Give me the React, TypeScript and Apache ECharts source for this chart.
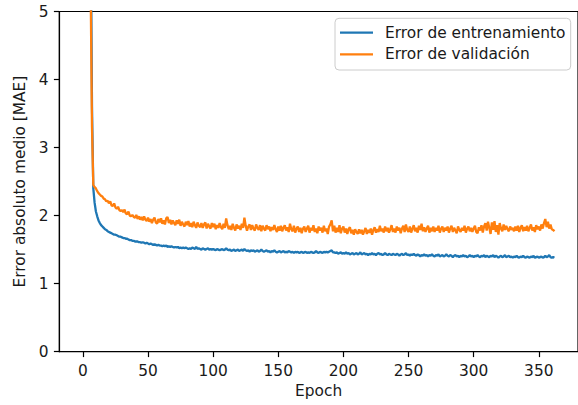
import React, { useEffect, useRef } from "react";
import * as echarts from "echarts";

const seriesNames = ["Error de entrenamiento", "Error de validación"];
const xTickValues = [0, 50, 100, 150, 200, 250, 300, 350];
const yTickValues = [0, 1, 2, 3, 4, 5];

const trainMAE = [
  22.6, 21.6, 20.1, 17.9, 14.9, 11.0, 6.4, 3.6, 2.4, 2.19,
  2.06, 1.99, 1.93, 1.89, 1.86, 1.84, 1.82, 1.8, 1.79, 1.77,
  1.76, 1.75, 1.74, 1.73, 1.72, 1.72, 1.71, 1.7, 1.69, 1.69,
  1.68, 1.67, 1.67, 1.66, 1.66, 1.65, 1.64, 1.64, 1.63, 1.63,
  1.62, 1.62, 1.62, 1.61, 1.61, 1.6, 1.61, 1.6, 1.59, 1.6,
  1.59, 1.58, 1.59, 1.58, 1.57, 1.58, 1.57, 1.56, 1.57, 1.56,
  1.56, 1.55, 1.56, 1.55, 1.56, 1.54, 1.55, 1.54, 1.55, 1.54,
  1.53, 1.54, 1.53, 1.54, 1.52, 1.53, 1.52, 1.53, 1.52, 1.53,
  1.52, 1.51, 1.52, 1.51, 1.53, 1.52, 1.51, 1.54, 1.51, 1.52,
  1.51, 1.5, 1.52, 1.51, 1.5, 1.51, 1.52, 1.5, 1.51, 1.5,
  1.51, 1.5, 1.49, 1.51, 1.5, 1.49, 1.5, 1.51, 1.49, 1.5,
  1.52, 1.5, 1.49, 1.5, 1.48, 1.49, 1.5, 1.48, 1.49, 1.5,
  1.48, 1.49, 1.5, 1.48, 1.51, 1.49, 1.48, 1.49, 1.47, 1.49,
  1.48, 1.49, 1.47, 1.48, 1.49, 1.47, 1.48, 1.5, 1.48, 1.47,
  1.48, 1.49, 1.47, 1.48, 1.46, 1.48, 1.47, 1.49, 1.47, 1.46,
  1.47, 1.48, 1.46, 1.47, 1.48, 1.46, 1.47, 1.46, 1.48, 1.47,
  1.46, 1.47, 1.45, 1.47, 1.46, 1.47, 1.45, 1.46, 1.47, 1.45,
  1.46, 1.47, 1.45, 1.46, 1.45, 1.47, 1.46, 1.45, 1.46, 1.48,
  1.46, 1.45, 1.47, 1.46, 1.45, 1.47, 1.46, 1.47, 1.46, 1.47,
  1.48, 1.49, 1.46, 1.46, 1.45, 1.46, 1.44, 1.45, 1.46, 1.44,
  1.45, 1.44, 1.46, 1.44, 1.45, 1.43, 1.44, 1.45, 1.43, 1.44,
  1.45, 1.43, 1.44, 1.46, 1.43, 1.44, 1.45, 1.43, 1.44, 1.42,
  1.44, 1.43, 1.45, 1.43, 1.44, 1.42, 1.44, 1.45, 1.43, 1.44,
  1.42, 1.43, 1.45, 1.43, 1.42, 1.44, 1.43, 1.42, 1.44, 1.43,
  1.42, 1.44, 1.43, 1.41, 1.43, 1.44, 1.42, 1.43, 1.45, 1.42,
  1.43, 1.41, 1.43, 1.42, 1.44, 1.42, 1.41, 1.43, 1.42, 1.4,
  1.42, 1.41, 1.43, 1.41, 1.42, 1.4, 1.42, 1.41, 1.43, 1.41,
  1.4, 1.42, 1.41, 1.43, 1.4, 1.41, 1.42, 1.4, 1.41, 1.43,
  1.41, 1.4, 1.42, 1.41, 1.39, 1.41, 1.42, 1.4, 1.41, 1.39,
  1.41, 1.4, 1.42, 1.4, 1.41, 1.39, 1.4, 1.42, 1.4, 1.41,
  1.39, 1.41, 1.4, 1.42, 1.4, 1.39, 1.41, 1.4, 1.42, 1.39,
  1.41, 1.4, 1.39, 1.41, 1.4, 1.42, 1.39, 1.41, 1.4, 1.38,
  1.4, 1.41, 1.39, 1.4, 1.42, 1.39, 1.4, 1.41, 1.39, 1.4,
  1.38, 1.4, 1.39, 1.41, 1.39, 1.38, 1.4, 1.39, 1.41, 1.39,
  1.38, 1.4, 1.39, 1.38, 1.4, 1.39, 1.41, 1.38, 1.39, 1.4,
  1.38, 1.39, 1.4, 1.38, 1.39, 1.41, 1.39, 1.4, 1.42, 1.39,
  1.38, 1.39, 1.38,
];

const valMAE = [
  22.3, 21.0, 19.1, 16.4, 13.1, 9.4, 5.3, 3.3, 2.45, 2.42,
  2.4, 2.36, 2.33, 2.31, 2.29, 2.28, 2.25, 2.24, 2.21, 2.22,
  2.18, 2.21, 2.15, 2.14, 2.18, 2.12, 2.1, 2.13, 2.08, 2.07,
  2.08, 2.05, 2.09, 2.03, 2.02, 2.06, 2.0, 1.99, 2.01, 1.98,
  1.97, 2.01, 1.95, 1.99, 1.94, 1.98, 1.93, 1.99, 1.94, 1.92,
  1.97, 1.91, 1.95, 1.89, 1.94, 1.97, 1.9, 1.88, 1.95, 1.9,
  1.96, 1.88, 1.93, 1.87, 1.96, 1.98, 1.89, 1.94, 1.87, 1.93,
  1.89, 1.86, 1.93, 1.88, 1.94, 1.85, 1.91, 1.87, 1.84, 1.91,
  1.86, 1.92, 1.84, 1.89, 1.83, 1.91, 1.86, 1.82, 1.9, 1.85,
  1.83, 1.89, 1.82, 1.87, 1.9, 1.81, 1.88, 1.84, 1.81, 1.89,
  1.83, 1.88, 1.8, 1.86, 1.82, 1.89, 1.83, 1.8, 1.88, 1.82,
  1.96, 1.86, 1.8, 1.85, 1.79, 1.88, 1.82, 1.78, 1.87, 1.81,
  1.85, 1.79, 1.88, 1.82, 1.97, 1.85, 1.78, 1.84, 1.87, 1.79,
  1.86, 1.81, 1.78, 1.87, 1.82, 1.79, 1.86, 1.77, 1.85, 1.81,
  1.78, 1.86, 1.8, 1.84, 1.77, 1.83, 1.79, 1.86, 1.8, 1.76,
  1.84, 1.78, 1.85, 1.77, 1.82, 1.86, 1.78, 1.83, 1.76, 1.88,
  1.8, 1.77, 1.85, 1.75, 1.81, 1.84, 1.76, 1.82, 1.74, 1.81,
  1.84, 1.76, 1.81, 1.85, 1.75, 1.82, 1.78, 1.86, 1.76, 1.81,
  1.74, 1.84, 1.78, 1.82, 1.75, 1.85, 1.77, 1.81, 1.73, 1.84,
  1.87, 1.93, 1.77, 1.85, 1.75, 1.82, 1.76, 1.86, 1.74, 1.81,
  1.84, 1.75, 1.81, 1.73, 1.8, 1.83, 1.74, 1.79, 1.72, 1.8,
  1.76, 1.73, 1.8, 1.74, 1.79, 1.72, 1.77, 1.82, 1.73, 1.79,
  1.75, 1.81, 1.72, 1.79, 1.83, 1.75, 1.8, 1.76, 1.85, 1.77,
  1.81, 1.75, 1.84, 1.77, 1.82, 1.75, 1.8, 1.86, 1.76, 1.81,
  1.75, 1.84, 1.78, 1.82, 1.74, 1.81, 1.85, 1.76, 1.87, 1.79,
  1.76, 1.84, 1.75, 1.81, 1.86, 1.77, 1.82, 1.75, 1.85, 1.79,
  1.88, 1.77, 1.83, 1.76, 1.81, 1.85, 1.75, 1.82, 1.77, 1.84,
  1.76, 1.82, 1.78, 1.85, 1.75, 1.81, 1.84, 1.76, 1.82, 1.78,
  1.84, 1.75, 1.81, 1.85, 1.76, 1.82, 1.78, 1.74, 1.84, 1.79,
  1.76, 1.82, 1.78, 1.85, 1.75, 1.81, 1.84, 1.77, 1.82, 1.76,
  1.81, 1.85, 1.76, 1.74, 1.83, 1.78, 1.86, 1.75, 1.84, 1.89,
  1.78, 1.91, 1.82, 1.73, 1.9, 1.79, 1.92, 1.76, 1.86, 1.72,
  1.89, 1.81, 1.77, 1.87, 1.79, 1.85, 1.8, 1.77, 1.84, 1.79,
  1.82, 1.77, 1.84, 1.78, 1.85, 1.76, 1.82, 1.86, 1.77, 1.83,
  1.78, 1.85, 1.77, 1.82, 1.87, 1.78, 1.83, 1.76, 1.86, 1.8,
  1.84, 1.78, 1.87, 1.81, 1.89, 1.95, 1.83, 1.91, 1.81, 1.87,
  1.8, 1.79, 1.77,
];

const FONT = "DejaVu Sans";
const FS = 15.4;
const TXT = "#1a1a1a";

export default function App() {
  const ref = useRef<HTMLDivElement>(null);
  useEffect(() => {
    if (!ref.current) return;
    const chart = echarts.init(ref.current, undefined, { renderer: "svg" });
    const epochs = trainMAE.map((_, i) => i);
    chart.setOption({
      animation: false,
      backgroundColor: "#ffffff",
      textStyle: { fontFamily: FONT, fontSize: FS, color: TXT },
      grid: {
        left: 59.3,
        top: 11.5,
        width: 519.5,
        height: 340.2,
        show: true,
        borderColor: "#000",
        borderWidth: 1.2,
        backgroundColor: "transparent",
      },
      legend: {
        orient: "vertical",
        left: 335,
        top: 18.3,
        padding: [6.4, 5.3, 7.7, 5],
        icon: "rect",
        itemWidth: 33,
        itemHeight: 2.3,
        itemGap: 5.6,
        backgroundColor: "rgba(255,255,255,0.8)",
        borderColor: "#cccccc",
        borderWidth: 1,
        borderRadius: 4,
        textStyle: {
          fontFamily: FONT,
          fontSize: FS,
          color: TXT,
          lineHeight: 16,
          padding: [0, 0, 0, 7],
        },
        data: seriesNames,
      },
      xAxis: {
        type: "value",
        min: -18.1,
        max: 380.1,
        name: "Epoch",
        nameLocation: "middle",
        nameGap: 32,
        nameTextStyle: { fontFamily: FONT, fontSize: FS, color: TXT },
        splitLine: { show: false },
        axisLine: { show: true, onZero: false, lineStyle: { color: "#000", width: 1.2 } },
        axisTick: { show: true, length: 5.4, lineStyle: { color: "#000", width: 1.2 }, customValues: xTickValues },
        axisLabel: { fontFamily: FONT, fontSize: FS, color: TXT, margin: 11.5, customValues: xTickValues },
      },
      yAxis: {
        type: "value",
        min: 0,
        max: 5,
        interval: 1,
        name: "Error absoluto medio [MAE]",
        nameLocation: "middle",
        nameRotate: 90,
        nameGap: 29.5,
        nameTextStyle: { fontFamily: FONT, fontSize: FS, color: TXT },
        splitLine: { show: false },
        axisLine: { show: true, onZero: false, lineStyle: { color: "#000", width: 1.2 } },
        axisTick: { show: true, length: 5.4, lineStyle: { color: "#000", width: 1.2 }, customValues: yTickValues },
        axisLabel: { fontFamily: FONT, fontSize: FS, color: TXT, margin: 10.8, customValues: yTickValues },
      },
      series: [
        {
          name: seriesNames[0],
          type: "line",
          symbol: "none",
          showSymbol: false,
          clip: true,
          data: epochs.map((e, i) => [e, trainMAE[i]]),
          lineStyle: { color: "#1f77b4", width: 2.3 },
          itemStyle: { color: "#1f77b4" },
        },
        {
          name: seriesNames[1],
          type: "line",
          symbol: "none",
          showSymbol: false,
          clip: true,
          data: epochs.map((e, i) => [e, valMAE[i]]),
          lineStyle: { color: "#ff7f0e", width: 2.3 },
          itemStyle: { color: "#ff7f0e" },
        },
      ],
    });
    return () => chart.dispose();
  }, []);
  return (
    <div
      ref={ref}
      style={{ position: "absolute", left: 0, top: 0, width: 578, height: 405, background: "#fff" }}
    />
  );
}
